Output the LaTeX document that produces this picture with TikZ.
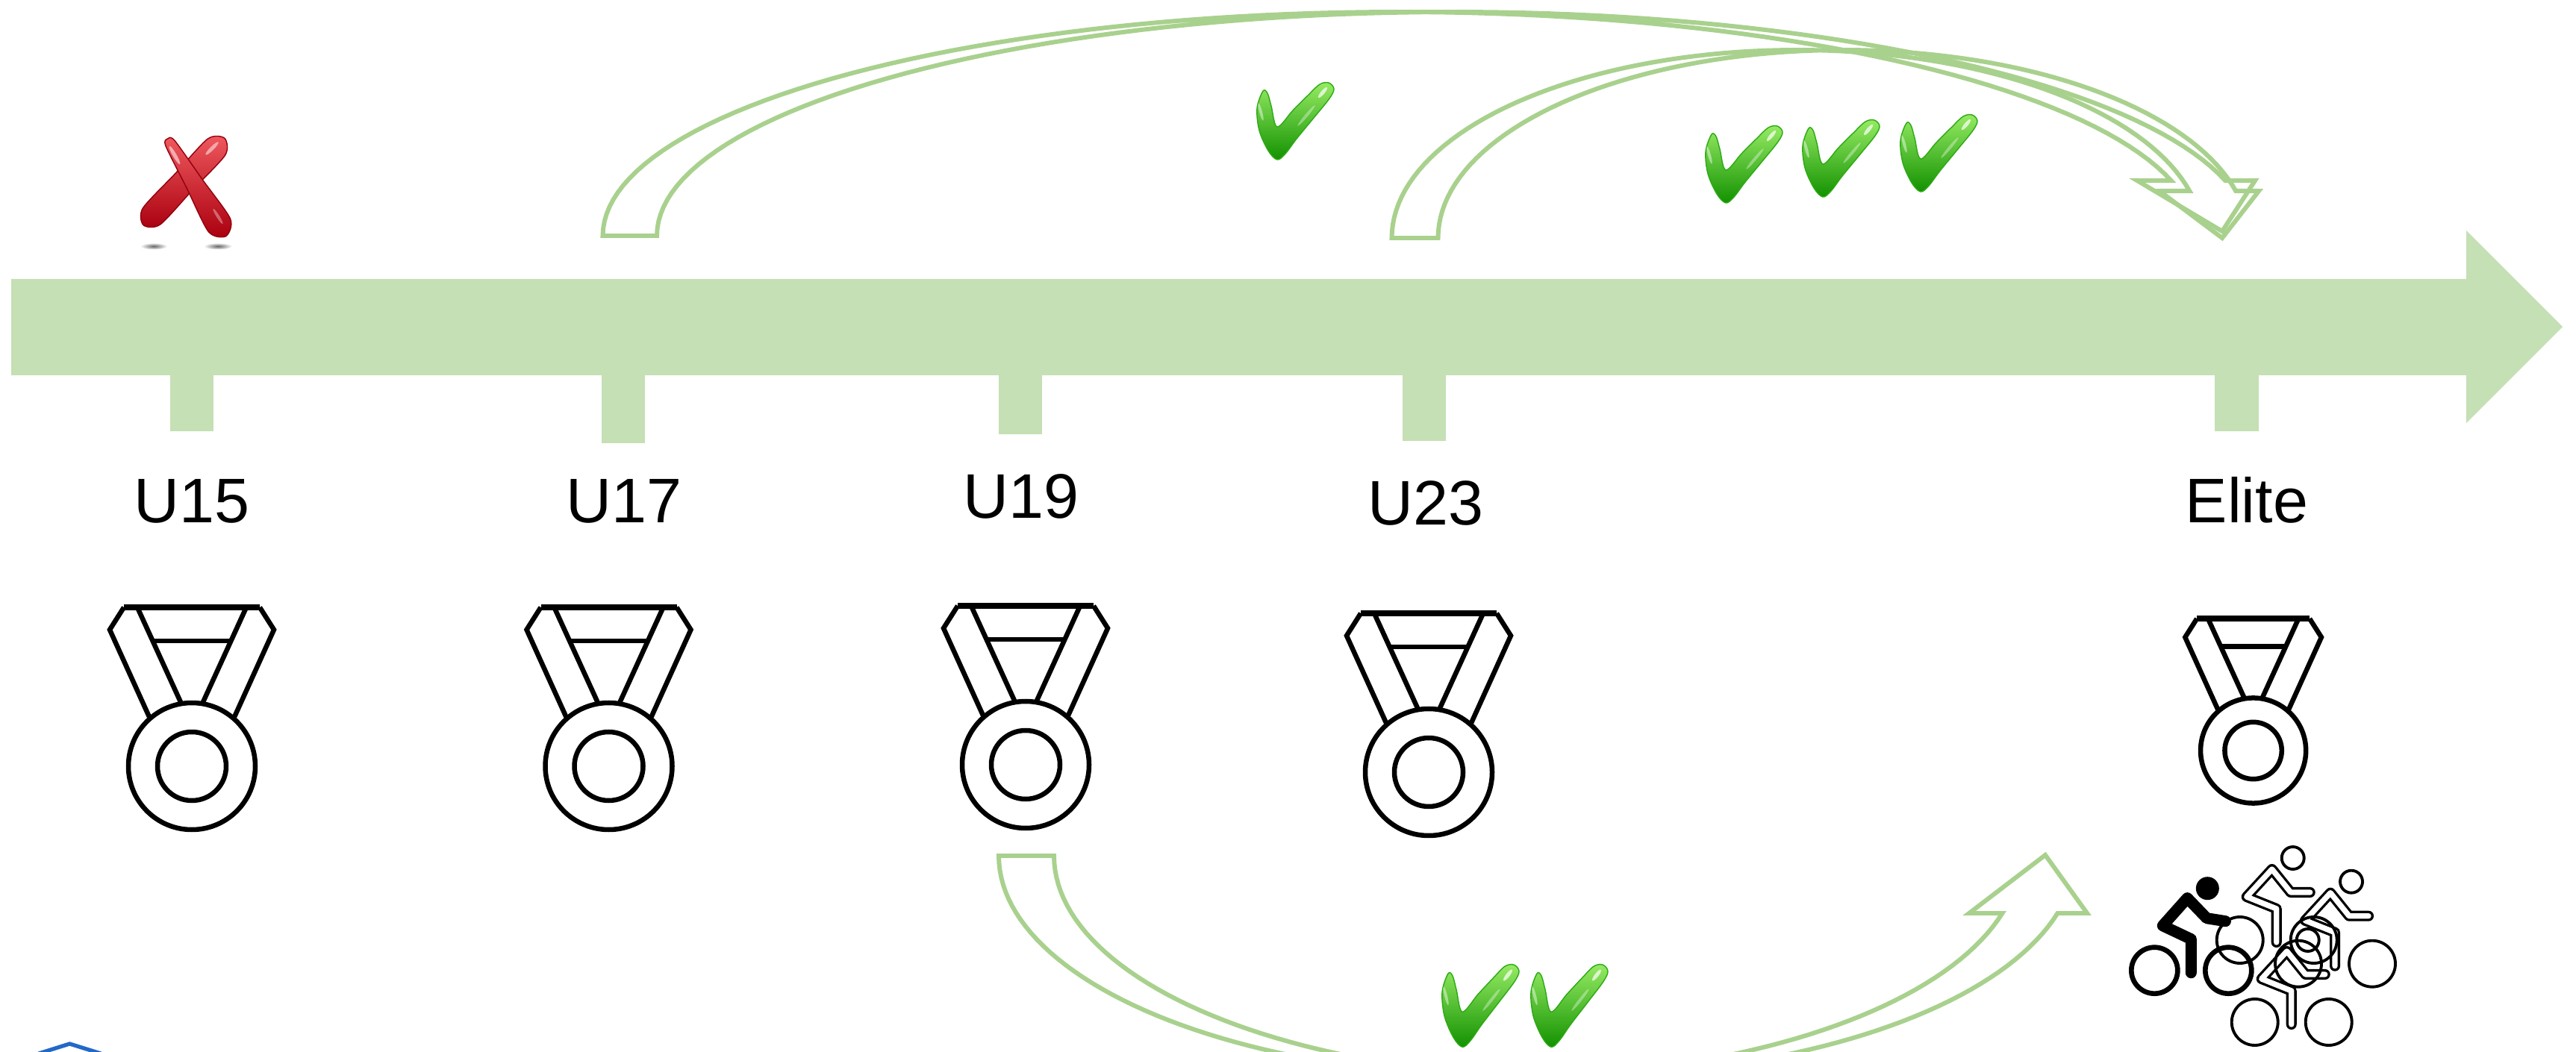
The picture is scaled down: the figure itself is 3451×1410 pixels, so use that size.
\documentclass[tikz,border=0pt]{standalone}
\usepackage{fontspec}
\setmainfont{Liberation Sans}
\definecolor{band}{HTML}{C5E0B4}
\definecolor{arcgreen}{HTML}{A9D18E}
\definecolor{okTop}{RGB}{150,235,100}
\definecolor{okBot}{RGB}{18,145,0}
\definecolor{okEdge}{RGB}{45,170,20}
\definecolor{xTop}{RGB}{240,90,95}
\definecolor{xBot}{RGB}{170,0,15}
\definecolor{homeblue}{RGB}{36,104,200}
\tikzset{
  arcline/.style={draw=arcgreen, line width=1.7pt, line join=miter},
  medalline/.style={draw=black, line width=1.85pt},
  lbl/.style={anchor=base, font=\fontsize{24}{28}\selectfont, inner sep=0pt},
  crossarm/.style={top color=xTop, bottom color=xBot, draw=xBot!85!black, line width=0.4pt},
  pics/medal/.style={code={
    \draw[medalline, line width=2.4pt] (-91,-213) -- (91,-213);
    \draw[medalline] (-91,-213) -- (-110,-183) -- (-57,-66);
    \draw[medalline] (91,-213) -- (110,-183) -- (57,-66);
    \draw[medalline] (-73,-213) -- (-15,-86);
    \draw[medalline] (73,-213) -- (15,-86);
    \draw[medalline] (-53,-168) -- (53,-168);
    \draw[medalline] (0,0) circle[radius=85];
    \draw[medalline] (0,0) circle[radius=46];
  }},
  pics/okmark/.style={code={
    \shadedraw[top color=okTop, bottom color=okBot, draw=okEdge, line width=0.4pt]
      plot[smooth cycle, tension=0.55] coordinates {(12,12) (4,35) (7,65) (19,92) (31,104) (42,96) (57,76) (80,48) (101,22) (107,9) (100,1) (88,3) (72,18) (52,38) (31,60) (23,32) (18,15)};
    \fill[white, opacity=0.7, rotate around={50:(92,14)}] (92,14) ellipse[x radius=9, y radius=2.5];
    \fill[white, opacity=0.45, rotate around={-75:(9,40)}] (9,40) ellipse[x radius=12, y radius=2];
    \fill[white, opacity=0.35, rotate around={50:(70,45)}] (70,45) ellipse[x radius=18, y radius=2];
  }}
}
\begin{document}
\begin{tikzpicture}[x=0.01cm, y=-0.01cm]
\useasboundingbox (0,0) rectangle (3451,1410);
\clip (0,0) rectangle (3451,1410);

% timeline arrow and ticks
\fill[band] (15,374) -- (3304,374) -- (3304,309) -- (3433,438) -- (3304,567) -- (3304,503) -- (15,503) -- cycle;
\fill[band] (228,500) rectangle (286,578);
\fill[band] (806,500) rectangle (864,594);
\fill[band] (1338,500) rectangle (1396,582);
\fill[band] (1879,500) rectangle (1937,591);
\fill[band] (2967,500) rectangle (3026,578);

% category labels
\node[lbl] (u15) at (257,701) {U15};
\node[lbl] (u17) at (836,701) {U17};
\node[lbl] (u19) at (1368,695) {U19};
\node[lbl] (u23) at (1910,704) {U23};
\node[lbl] (elite) at (3010,701) {Elite};

% medals
\pic at (257,1027) {medal};
\pic at (815.5,1027) {medal};
\pic at (1374,1025) {medal};
\pic at (1914,1035) {medal};
\pic[scale=0.83] at (3018.6,1006) {medal};

% curved hollow arrows
\draw[arcline] plot[domain=180:14.28, samples=90] ({1874.5+1067*cos(\x)},{316-300*sin(\x)})
  -- (2863,242) -- (2977,310) -- (3021,242)
  -- plot[domain=14.28:180, samples=90] ({1947+1067*cos(\x)},{316-300*sin(\x)}) -- cycle;
\draw[arcline] plot[domain=180:14.48, samples=80] ({2407.5+543*cos(\x)},{319-252*sin(\x)})
  -- (2893,256) -- (2977,319) -- (3026,256)
  -- plot[domain=14.48:180, samples=80] ({2469.5+543*cos(\x)},{319-252*sin(\x)}) -- cycle;
\draw[arcline] plot[domain=0:164.92, samples=90] ({2022-684*cos(\x)},{1147+296*sin(\x)})
  -- (2638,1224) -- (2740,1146) -- (2796,1224)
  -- plot[domain=164.92:0, samples=90] ({2096-684*cos(\x)},{1147+296*sin(\x)}) -- cycle;

% red cross with shadow
\shade[inner color=black!60, outer color=white] (206,330) ellipse[x radius=18, y radius=4.5];
\shade[inner color=black!60, outer color=white] (292,330) ellipse[x radius=19, y radius=4.5];
\shadedraw[crossarm] plot[smooth cycle, tension=0.45] coordinates {(278.3,186.1) (300.9,185.3) (301.7,207.9) (258.2,254.4) (214.7,300.9) (192.1,301.7) (191.3,279.1) (234.8,232.6)};
\shadedraw[crossarm] plot[smooth cycle, tension=0.45] coordinates {(224.4,186) (234,188.4) (271.3,240.8) (308.6,293.3) (302.7,316.6) (279.4,310.7) (250.7,253.2) (222,195.6)};
\fill[white, opacity=0.55, rotate around={-60:(234,208)}] (234,208) ellipse[x radius=14, y radius=2.5];
\fill[white, opacity=0.5, rotate around={45:(284,199)}] (284,199) ellipse[x radius=12, y radius=2.5];
\fill[white, opacity=0.35, rotate around={-58:(292,290)}] (292,290) ellipse[x radius=12, y radius=2];

% green check marks
\pic at (1680,110) {okmark};
\pic at (2281,168) {okmark};
\pic at (2411,160) {okmark};
\pic at (2542,153) {okmark};
\pic[yscale=1.07] at (1928,1292) {okmark};
\pic[yscale=1.07] at (2047,1292) {okmark};

% cyclists: solid rider
\begin{scope}[shift={(2957.3,1190.7)}]
  \fill (0,0) circle[radius=15.5];
  \draw[line width=4.3pt, line cap=round, line join=round] (24,44) -- (-1,40) -- (-27,13) -- (-60,50) -- (-22,68) -- (-22,113);
  \draw[line width=1.9pt] (-71,110) circle[radius=31] (28,110) circle[radius=31];
\end{scope}
% cyclists: outlined riders
\foreach \hx/\hy in {3071.7/1150, 3150/1181.7, 3091.7/1260}{
  \draw[line width=4pt, line cap=round, line join=round, shift={(\hx,\hy)}] (23,46) -- (-3,46) -- (-28,15) -- (-62,52) -- (-22,68) -- (-22,113);
}
\foreach \hx/\hy in {3071.7/1150, 3150/1181.7, 3091.7/1260}{
  \draw[white, line width=2.1pt, line cap=round, line join=round, shift={(\hx,\hy)}] (23,46) -- (-3,46) -- (-28,15) -- (-62,52) -- (-22,68) -- (-22,113);
}
\foreach \hx/\hy in {3071.7/1150, 3150/1181.7, 3091.7/1260}{
  \draw[line width=1.1pt, shift={(\hx,\hy)}] (0,0) circle[radius=15] (-71,110) circle[radius=31] (28,110) circle[radius=31];
}

% corner emblem
\draw[homeblue, line width=1.5pt] (52,1412) -- (93.3,1399) -- (135,1412);
\end{tikzpicture}
\end{document}
